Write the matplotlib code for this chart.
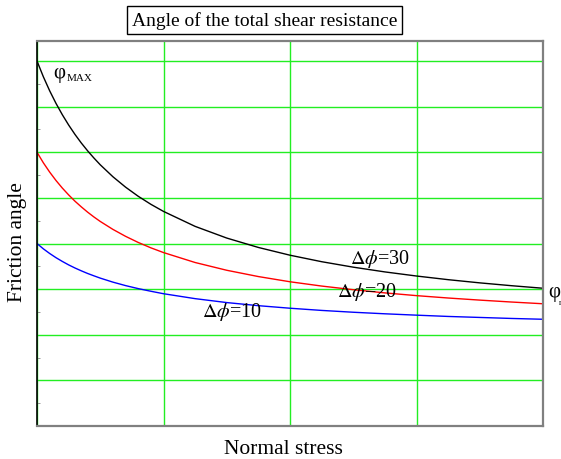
import numpy as np
import matplotlib.pyplot as plt
from matplotlib.ticker import MultipleLocator, NullFormatter

plt.rcParams['font.family'] = ['Liberation Serif', 'DejaVu Serif']
plt.rcParams['mathtext.fontset'] = 'stix'

# normal stress (grid units) and friction angle for each delta-phi
stress = [0, 0.05, 0.1, 0.15, 0.2, 0.25, 0.3, 0.35, 0.4, 0.45, 0.5, 0.6, 0.7, 0.8, 0.9,
          1.0, 1.25, 1.5, 1.75, 2.0, 2.25, 2.5, 2.75, 3.0, 3.25, 3.5, 3.75, 4.0]
phi_d30 = [40, 38.28, 36.74, 35.36, 34.12, 32.99, 31.96, 31.02, 30.16, 29.37, 28.63, 27.32, 26.18,
           25.18, 24.30, 23.52, 21.88, 20.60, 19.57, 18.72, 18.01, 17.41, 16.89, 16.44, 16.04,
           15.69, 15.38, 15.10]
phi_d20 = [30, 28.85, 27.83, 26.91, 26.08, 25.33, 24.64, 24.02, 23.44, 22.91, 22.42, 21.55, 20.79,
           20.12, 19.53, 19.01, 17.92, 17.07, 16.38, 15.81, 15.34, 14.94, 14.59, 14.29, 14.03,
           13.80, 13.59, 13.40]
phi_d10 = [20, 19.42, 18.91, 18.45, 18.04, 17.66, 17.32, 17.01, 16.72, 16.46, 16.21, 15.77, 15.39,
           15.06, 14.77, 14.50, 13.96, 13.53, 13.19, 12.91, 12.67, 12.47, 12.30, 12.15, 12.01,
           11.90, 11.79, 11.70]

fig = plt.figure(figsize=(5.61, 4.60), dpi=100)
ax = fig.add_axes([0.066, 0.0717, 0.902, 0.837])

ax.plot(stress, phi_d30, color='black', lw=1)
ax.plot(stress, phi_d20, color='#ff0000', lw=1)
ax.plot(stress, phi_d10, color='#0000ff', lw=1)

ax.set_xlim(0, 4)
ax.set_ylim(0, 42.2)
ax.xaxis.set_major_locator(MultipleLocator(1))
ax.yaxis.set_major_locator(MultipleLocator(5))
ax.yaxis.set_minor_locator(MultipleLocator(2.5))
ax.xaxis.set_major_formatter(NullFormatter())
ax.yaxis.set_major_formatter(NullFormatter())
ax.grid(True, which='major', color='#22ee22', lw=1)
ax.set_axisbelow(True)
ax.tick_params(axis='both', which='both', length=0)
ax.tick_params(axis='y', which='minor', direction='in', length=2, color='#888888', left=True)

for side in ['top', 'right', 'bottom']:
    ax.spines[side].set_color('#808080')
    ax.spines[side].set_linewidth(1.6)
ax.spines['left'].set_color('black')
ax.spines['left'].set_linewidth(1.2)

ax.set_xlabel('Normal stress', fontsize=15.5)
ax.set_ylabel('Friction angle', fontsize=15.5)
ax.xaxis.set_label_coords(0.486, -0.034)
ax.yaxis.set_label_coords(-0.02, 0.48)

# curve labels
ax.text(0.126, 38.7, 'φ', fontsize=15, va='center', ha='left')
ax.text(0.237, 37.9, 'MAX', fontsize=8, va='baseline', ha='left')
ax.text(2.71, 18.4, r'$\Delta\phi$=30', fontsize=14.5, va='center', ha='center')
ax.text(2.61, 14.8, r'$\Delta\phi$=20', fontsize=14.5, va='center', ha='center')
ax.text(1.54, 12.6, r'$\Delta\phi$=10', fontsize=14.5, va='center', ha='center')
ax.text(4.04, 14.7, 'φ', fontsize=15, va='center', ha='left', clip_on=False)
ax.text(4.125, 13.6, 'r', fontsize=6, va='center', ha='left', clip_on=False)

fig.text(0.471, 0.954, 'Angle of the total shear resistance', fontsize=14,
         ha='center', va='center',
         bbox=dict(boxstyle='square,pad=0.25', fc='white', ec='black', lw=1))

fig.savefig('out.png', dpi=100)
